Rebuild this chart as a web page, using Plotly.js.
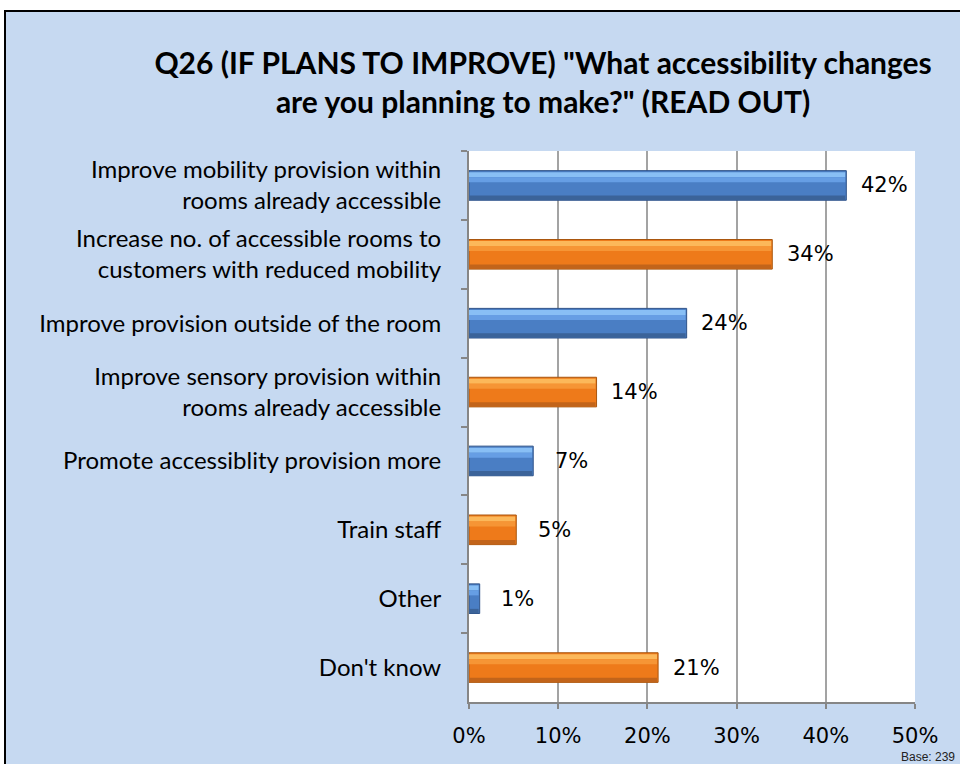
<!DOCTYPE html>
<html>
<head>
<meta charset="utf-8">
<script src="https://cdn.plot.ly/plotly-3.0.1.min.js"></script>
<style>
  html, body { margin: 0; padding: 0; background: #ffffff; width: 960px; height: 764px; overflow: hidden; }
  #frame { position: absolute; left: 4px; top: 10px; width: 960px; height: 760px;
           border-left: 2px solid #000; border-top: 2px solid #000; background: #c6d9f1; }
  #chart { position: absolute; left: 0; top: 0; width: 954px; height: 752px; }
</style>
</head>
<body>
<div id="frame"><div id="chart"></div></div>
<script>
const categories = [
  "Improve mobility provision within<br>rooms already accessible",
  "Increase no. of accessible rooms to<br>customers with reduced mobility",
  "Improve provision outside of the room",
  "Improve sensory provision within<br>rooms already accessible",
  "Promote accessiblity provision more",
  "Train staff",
  "Other",
  "Don't know"
];
const values = [42.3, 34.0, 24.4, 14.3, 7.2, 5.3, 1.2, 21.2];
const valueLabels = ["42%", "34%", "24%", "14%", "7%", "5%", "1%", "21%"];
const xTickVals = [0, 10, 20, 30, 40, 50];
const xTickText = ["0%", "10%", "20%", "30%", "40%", "50%"];

// Bar styling (alternating blue / orange with a bevelled look)
const palette = {
  base:   ["#4a7ec4", "#ee7a1a"],
  edge:   ["#2f5389", "#a9560e"],
  light:  ["#88bff5", "#fcb85a"],
  upper:  ["#669ee4", "#f69535"],
  lower:  ["#3b6399", "#c2641a"]
};
const pick = key => categories.map((_, i) => palette[key][i % 2]);
const BW = 0.43, px = 1 / 68.9;

const traces = [];
traces.push({
  type: "bar", orientation: "h", y: categories, x: values,
  width: BW, offset: -BW / 2,
  marker: { color: pick("base"), line: { color: pick("edge"), width: 1 } },
  hoverinfo: "skip"
});
const bands = [
  { key: "light", start: 1.5, h: 5 },
  { key: "upper", start: 6.5, h: 5 },
  { key: "lower", start: 25, h: 4.5 }
];
bands.forEach(b => {
  traces.push({
    type: "bar", orientation: "h", y: categories, x: values.map(v => v - 0.12),
    width: b.h * px, offset: -BW / 2 + b.start * px,
    marker: { color: pick(b.key), line: { width: 0 } },
    hoverinfo: "skip"
  });
});

const valueAnnotations = categories.map((c, i) => ({
  x: values[i], y: c, xref: "x", yref: "y",
  text: valueLabels[i], showarrow: false,
  xanchor: "center", yanchor: "middle", xshift: 38,
  font: { family: "DejaVu Sans", size: 21, color: "#000" }
}));

const layout = {
  width: 954, height: 752,
  paper_bgcolor: "#c6d9f1", plot_bgcolor: "#ffffff",
  margin: { l: 463, r: 45, t: 139, b: 62 },
  barmode: "overlay", showlegend: false,
  title: {
    text: "<b>Q26 (IF PLANS TO IMPROVE) \"What accessibility changes<br>are you planning to make?\" (READ OUT)</b>",
    font: { family: "Lato", size: 30, color: "#000" },
    xref: "container", x: 0.563, xanchor: "center",
    yref: "container", y: 0.918, yanchor: "top"
  },
  xaxis: {
    range: [0, 50], tickvals: xTickVals, ticktext: xTickText,
    showgrid: true, gridcolor: "#a3a3a3", gridwidth: 2,
    showline: true, linecolor: "#868686", linewidth: 2,
    ticks: "outside", ticklen: 5, tickcolor: "#868686", tickwidth: 2,
    ticklabelstandoff: 9,
    tickfont: { family: "DejaVu Sans", size: 21, color: "#000" },
    zeroline: false, fixedrange: true
  },
  yaxis: {
    type: "category", autorange: "reversed",
    tickson: "boundaries", ticks: "outside", ticklen: 6, tickcolor: "#868686", tickwidth: 2,
    showgrid: false, showline: true, linecolor: "#868686", linewidth: 2,
    ticklabelstandoff: 21,
    tickfont: { family: "Lato", size: 24, color: "#000" },
    fixedrange: true
  },
  annotations: valueAnnotations.concat([{
    text: "Base: 239", xref: "paper", yref: "paper", x: 1.094, y: -0.1005,
    xanchor: "right", yanchor: "middle", showarrow: false,
    font: { family: "Liberation Sans", size: 12, color: "#222" }
  }])
};

Plotly.newPlot("chart", traces, layout, { displayModeBar: false, staticPlot: true });
</script>
</body>
</html>
